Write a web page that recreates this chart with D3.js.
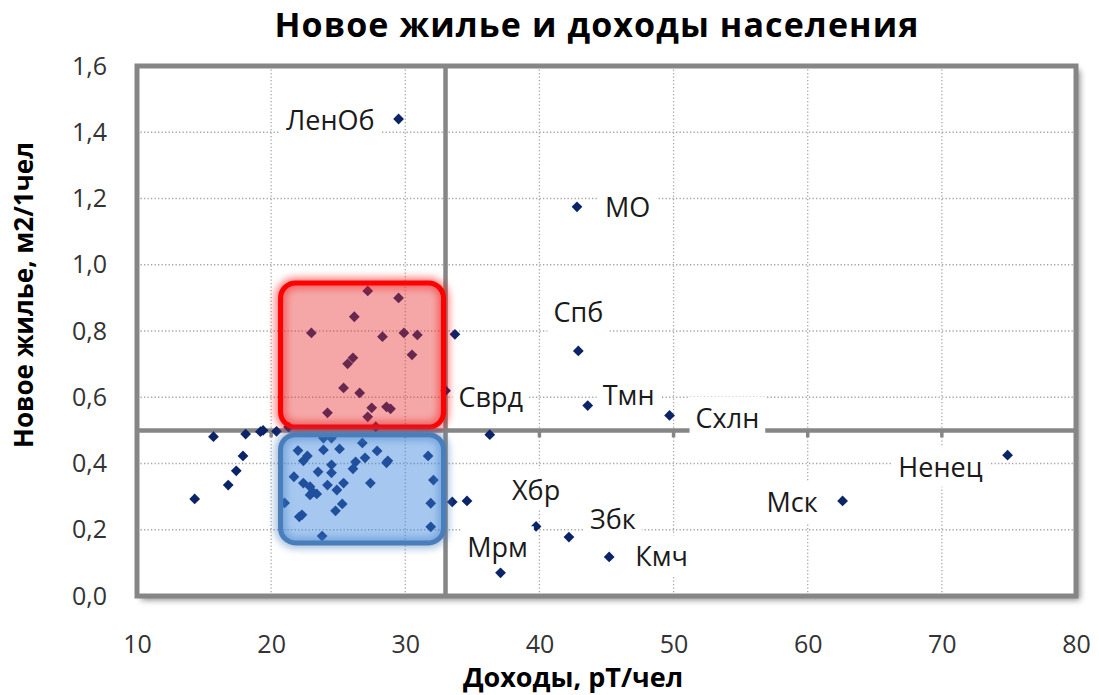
<!DOCTYPE html>
<html>
<head>
<meta charset="utf-8">
<script src="https://cdn.jsdelivr.net/npm/d3@7"></script>
<style>
  body { margin: 0; background: #fff; }
  text { font-family: "Open Sans", Lato, sans-serif; }
</style>
</head>
<body>
<svg id="chart"></svg>
<script>
// labelled regions: [income, new housing]
var labelNames = ["ЛенОб", "МО", "Спб", "Тмн", "Схлн", "Сврд", "Хбр", "Мрм", "Збк", "Кмч", "Мск", "Ненец"];
var labelIncome = [29.5, 42.8, 42.9, 43.6, 49.7, 33.0, 39.75, 37.1, 42.2, 45.2, 62.6, 74.9];
var labelHousing = [1.44, 1.175, 0.74, 0.575, 0.545, 0.62, 0.21, 0.07, 0.178, 0.118, 0.287, 0.425];

// other regions
var otherIncome = [
  33.7, 36.3, 33.5, 34.6, 31.7, 32.1, 31.9, 31.9,
  15.7, 18.1, 19.2, 19.4, 17.9, 17.4, 16.8, 14.3, 20.4, 21.3,
  22.0, 22.7, 22.4, 23.9, 25.1, 26.8, 27.9, 27.0, 26.3, 26.1, 28.7, 28.6, 24.5, 24.5, 23.5,
  21.7, 22.4, 22.9, 24.2, 25.4, 24.9, 27.4, 23.1, 23.4, 22.9, 21.0, 25.3, 24.8, 22.3, 22.1,
  23.8, 23.9, 24.5, 27.8,
  27.2, 29.5, 26.2, 23.0, 28.3, 29.9, 30.9, 30.5, 26.1, 25.7, 25.4, 26.6, 24.2, 27.5, 27.2, 28.6, 28.9
];
var otherHousing = [
  0.79, 0.487, 0.284, 0.287, 0.423, 0.35, 0.28, 0.209,
  0.481, 0.489, 0.496, 0.50, 0.423, 0.378, 0.335, 0.293, 0.497, 0.51,
  0.439, 0.423, 0.408, 0.441, 0.444, 0.462, 0.438, 0.417, 0.405, 0.384, 0.408, 0.402, 0.396, 0.372, 0.375,
  0.36, 0.341, 0.33, 0.335, 0.341, 0.32, 0.341, 0.314, 0.308, 0.305, 0.281, 0.278, 0.257, 0.245, 0.239,
  0.181, 0.477, 0.477, 0.511,
  0.921, 0.9, 0.843, 0.794, 0.783, 0.794, 0.788, 0.728, 0.719, 0.701, 0.628, 0.613, 0.553, 0.568, 0.541, 0.571, 0.565
];

var xTicks = [10, 20, 30, 40, 50, 60, 70, 80];
var yTicks = [0, 0.2, 0.4, 0.6, 0.8, 1.0, 1.2, 1.4, 1.6];
var crossX = 33, crossY = 0.5;
// highlight boxes: [x0, x1, y0, y1]
var redBox = [20.7, 32.85, 0.51, 0.945];
var blueBox = [20.7, 32.85, 0.16, 0.487];

// label placement (px offsets from point, anchor)
var labelPos = [
  [-24, 2, "end"], [28, 1, "start"], [0, -38, "middle"], [15, -10, "start"],
  [26, 3, "start"], [13, 7, "start"], [0, -36, "middle"], [-3, -25, "middle"],
  [21, -17, "start"], [26, 0, "start"], [-25, 2, "end"], [-25, 12, "end"]
];

var W = 1099, H = 695;
var pL = 137, pR = 1076, pT = 66, pB = 596;

var svg = d3.select("#chart").attr("width", W).attr("height", H);
var defs = svg.append("defs");

var shadow = defs.append("filter").attr("id", "shadow")
    .attr("x", "-5%").attr("y", "-5%").attr("width", "115%").attr("height", "115%");
shadow.append("feGaussianBlur").attr("in", "SourceAlpha").attr("stdDeviation", 3);
shadow.append("feOffset").attr("dx", 4).attr("dy", 4).attr("result", "b");
shadow.append("feComponentTransfer").append("feFuncA").attr("type", "linear").attr("slope", 0.45);
var m = shadow.append("feMerge");
m.append("feMergeNode");
m.append("feMergeNode").attr("in", "SourceGraphic");

var glow = defs.append("filter").attr("id", "glow")
    .attr("x", "-20%").attr("y", "-20%").attr("width", "140%").attr("height", "140%");
glow.append("feGaussianBlur").attr("stdDeviation", 3.5);

var x = d3.scaleLinear().domain([10, 80]).range([pL, pR]);
var y = d3.scaleLinear().domain([0, 1.6]).range([pB, pT]);
var ru = d3.formatLocale({decimal: ",", thousands: " ", grouping: [3], currency: ["", ""]});
var fmt = ru.format(".1f");

// plot area with shadow
svg.append("rect")
    .attr("x", pL).attr("y", pT)
    .attr("width", pR - pL).attr("height", pB - pT)
    .attr("fill", "#fff")
    .attr("filter", "url(#shadow)");

// dotted grid
var grid = svg.append("g")
    .attr("stroke", "#a6a6a6").attr("stroke-width", 1.3).attr("stroke-dasharray", "1.3,2.2");
grid.selectAll(".gx").data(xTicks.slice(1, -1)).enter().append("line")
    .attr("x1", x).attr("x2", x).attr("y1", pT).attr("y2", pB);
grid.selectAll(".gy").data(yTicks.slice(1, -1)).enter().append("line")
    .attr("x1", pL).attr("x2", pR).attr("y1", y).attr("y2", y);

// axis tick labels
var yAxis = svg.append("g")
    .attr("transform", "translate(" + pL + ",0)")
    .call(d3.axisLeft(y).tickValues(yTicks).tickSize(0).tickPadding(30).tickFormat(fmt));
var xAxis = svg.append("g")
    .attr("transform", "translate(0," + pB + ")")
    .call(d3.axisBottom(x).tickValues(xTicks).tickSize(0).tickPadding(39).tickFormat(d3.format("d")));
[yAxis, xAxis].forEach(function(a) {
    a.select(".domain").remove();
    a.selectAll("text").attr("font-size", 25).attr("fill", "#333")
        .style("font-family", "'Open Sans', sans-serif");
});

// crossing axes
svg.append("line")
    .attr("x1", pL).attr("x2", pR).attr("y1", y(crossY)).attr("y2", y(crossY))
    .attr("stroke", "#868686").attr("stroke-width", 4.5);
svg.append("line")
    .attr("x1", x(crossX)).attr("x2", x(crossX)).attr("y1", pT).attr("y2", pB)
    .attr("stroke", "#868686").attr("stroke-width", 4.5);
svg.append("g").selectAll("line").data(xTicks.slice(1, -1)).enter().append("line")
    .attr("x1", x).attr("x2", x)
    .attr("y1", y(crossY)).attr("y2", y(crossY) + 7)
    .attr("stroke", "#868686").attr("stroke-width", 3.5);

// points
var allPoints = otherIncome.map(function(v, i) { return [v, otherHousing[i]]; })
    .concat(labelIncome.map(function(v, i) { return [v, labelHousing[i]]; }));
var diamond = d3.symbol().type(d3.symbolSquare).size(58);
svg.append("g").selectAll("path").data(allPoints).enter().append("path")
    .attr("d", diamond)
    .attr("transform", function(d) { return "translate(" + x(d[0]) + "," + y(d[1]) + ") rotate(45)"; })
    .attr("fill", "#0b2468");

// data labels with white background
var lab = svg.append("g").selectAll("g").data(labelNames).enter().append("g")
    .attr("transform", function(d, i) {
        return "translate(" + (x(labelIncome[i]) + labelPos[i][0]) + "," + (y(labelHousing[i]) + labelPos[i][1]) + ")";
    });
var labBg = lab.append("rect").attr("fill", "#fff");
var labTxt = lab.append("text")
    .attr("text-anchor", function(d, i) { return labelPos[i][2]; })
    .attr("dy", "0.35em")
    .attr("font-size", 27).attr("fill", "#1a1a1a")
    .text(function(d) { return d; });
labTxt.each(function(d, i) {
    var b = this.getBBox();
    d3.select(labBg.nodes()[i])
        .attr("x", b.x - 6).attr("y", b.y - 2).attr("width", b.width + 12).attr("height", b.height + 4);
});

// highlight boxes
function box(b, fill, opacity, stroke) {
    var g = svg.append("g");
    var bx = x(b[0]), by = y(b[3]), bw = x(b[1]) - x(b[0]), bh = y(b[2]) - y(b[3]);
    g.append("rect").attr("x", bx).attr("y", by).attr("width", bw).attr("height", bh)
        .attr("rx", 15).attr("fill", "none")
        .attr("stroke", stroke).attr("stroke-opacity", 0.45).attr("stroke-width", 12)
        .attr("filter", "url(#glow)");
    g.append("rect").attr("x", bx).attr("y", by).attr("width", bw).attr("height", bh)
        .attr("rx", 15).attr("fill", fill).attr("fill-opacity", opacity)
        .attr("stroke", stroke).attr("stroke-width", 5);
}
box(redBox, "rgb(232,45,45)", 0.42, "#ff0000");
box(blueBox, "rgb(58,133,222)", 0.45, "#4a7ebb");

// plot border
svg.append("rect")
    .attr("x", pL).attr("y", pT)
    .attr("width", pR - pL).attr("height", pB - pT)
    .attr("fill", "none").attr("stroke", "#868686").attr("stroke-width", 5);

// titles
svg.append("text")
    .attr("x", 597).attr("y", 37)
    .attr("text-anchor", "middle")
    .attr("font-size", 34).attr("letter-spacing", 1.1)
    .attr("font-weight", "bold").attr("fill", "#000")
    .text("Новое жилье и доходы населения");
svg.append("text")
    .attr("x", 573).attr("y", 687)
    .attr("text-anchor", "middle")
    .attr("font-size", 27).attr("font-weight", "bold").attr("fill", "#000")
    .text("Доходы, рТ/чел");
svg.append("text")
    .attr("transform", "translate(33,295) rotate(-90)")
    .attr("text-anchor", "middle")
    .attr("font-size", 26).attr("font-weight", "bold").attr("fill", "#000")
    .text("Новое жилье, м2/1чел");
</script>
</body>
</html>
